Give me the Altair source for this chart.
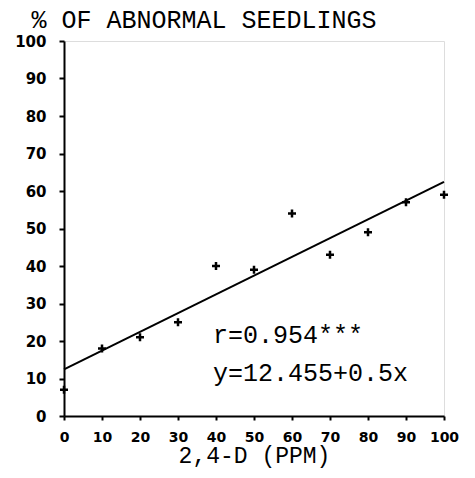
import altair as alt
import pandas as pd

ppm = [0, 10, 20, 30, 40, 50, 60, 70, 80, 90, 100]
abnormal = [7, 18, 21, 25, 40, 39, 54, 43, 49, 57, 59]
fit_x = [0, 100]
fit_y = [12.455, 62.455]
ann_text = ["r=0.954***", "y=12.455+0.5x"]
ann_x = [39.2, 39.2]
ann_y = [21.6, 11.6]
ticks = [0, 10, 20, 30, 40, 50, 60, 70, 80, 90, 100]

pts = pd.DataFrame({"x": ppm, "y": abnormal})
fit = pd.DataFrame({"x": fit_x, "y": fit_y})
ann = pd.DataFrame({"x": ann_x, "y": ann_y, "t": ann_text})

xs = alt.Scale(domain=[0, 100], nice=False, zero=False)
ys = alt.Scale(domain=[0, 100], nice=False, zero=False)

xaxis = alt.Axis(values=ticks, title="2,4-D (PPM)", grid=False, domainColor="black",
                 domainWidth=2, tickColor="black", tickWidth=2, tickSize=4,
                 labelFont="DejaVu Sans", labelFontWeight="bold", labelFontSize=14,
                 labelColor="black", labelPadding=10, labelFlush=False, labelOverlap=False,
                 titleFont="Liberation Mono", titleFontSize=23, titleFontWeight="normal",
                 titleColor="black", titlePadding=0)
yaxis = alt.Axis(values=ticks, title="% OF ABNORMAL SEEDLINGS", grid=False,
                 domainColor="black", domainWidth=2, tickColor="black", tickWidth=2,
                 tickSize=5, labelFont="DejaVu Sans", labelFontWeight="bold",
                 labelFontSize=15, labelColor="black", labelPadding=13,
                 labelFlush=False, labelOverlap=False,
                 titleFont="Liberation Mono", titleFontSize=25, titleFontWeight="normal",
                 titleColor="black", titleAngle=0, titleAlign="left",
                 titleBaseline="middle", titleX=-33, titleY=-22)

X = alt.X("x:Q", scale=xs, axis=xaxis)
Y = alt.Y("y:Q", scale=ys, axis=yaxis)

points = alt.Chart(pts).mark_point(
    shape="M-1,0L1,0M0,-1L0,1", size=64, filled=False, stroke="black", strokeWidth=2.5,
    opacity=1
).encode(x=X, y=Y)

line = alt.Chart(fit).mark_line(color="black", strokeWidth=2).encode(x=X, y=Y)

text = alt.Chart(ann).mark_text(
    font="Liberation Mono", fontSize=25, align="left", baseline="middle", color="black"
).encode(x=X, y=Y, text="t:N")

chart = alt.layer(line, points, text).properties(
    width=380, height=375,
    autosize=alt.AutoSizeParams(type="none"),
    padding={"left": 56, "top": 33, "right": 20, "bottom": 54},
).configure_view(stroke=None).configure(background="white")

chart.save("out.html", embed_options={"renderer": "svg", "actions": False})
